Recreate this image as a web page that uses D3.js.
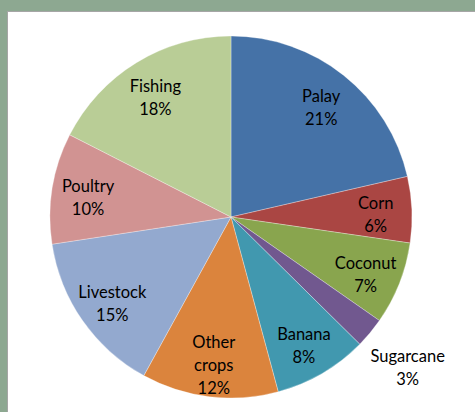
<!DOCTYPE html>
<html>
<head>
<meta charset="utf-8">
<script src="https://cdn.jsdelivr.net/npm/d3@7"></script>
<style>
  body { margin: 0; background: #8da891; }
  svg { display: block; }
  text { font-family: Lato, "Open Sans", sans-serif; font-size: 16.5px; fill: #000; }
</style>
</head>
<body>
<div id="chart"></div>
<script>
const categories = ["Palay", "Corn", "Coconut", "Sugarcane", "Banana", "Other crops", "Livestock", "Poultry", "Fishing"];
// shares in percent (labels show them rounded)
const values     = [21.4, 5.9, 7.4, 2.7, 8.4, 12.2, 14.6, 9.9, 17.5];
const colors     = ["#4572a7", "#aa4643", "#89a54e", "#71588f", "#4198af", "#db843d", "#93a9cf", "#d19392", "#b9cd96"];

const width  = 475;
const height = 412;
const cx = 231, cy = 217;
const radius = 181;

const svg = d3.select("#chart").append("svg")
  .attr("width", width)
  .attr("height", height);

// frame: gray-green band top/left, white plot area
svg.append("rect").attr("width", width).attr("height", height).attr("fill", "#8da891");
svg.append("rect").attr("x", 7).attr("y", 11).attr("width", width - 7).attr("height", height - 11).attr("fill", "#a6a6a6");
svg.append("rect").attr("x", 8).attr("y", 12).attr("width", width - 8).attr("height", height - 12).attr("fill", "#fff");

const data  = categories.map((c, i) => ({ name: c, value: values[i] }));
const total = d3.sum(values);
const pie   = d3.pie().sort(null).value(d => d.value);
const arc   = d3.arc().innerRadius(0).outerRadius(radius);
const color = d3.scaleOrdinal(categories, colors);

const g = svg.append("g").attr("transform", "translate(" + cx + "," + cy + ")");

const arcs = pie(data);

g.selectAll("path")
  .data(arcs)
  .enter().append("path")
  .attr("d", arc)
  .attr("fill", d => color(d.data.name))
  .attr("stroke", "rgba(255,255,255,0.5)")
  .attr("stroke-width", 0.6);

const format = d3.format(".0%");

// small slices get their label outside the pie
const labelArc = d => {
  const r = d.data.value / total < 0.05 ? radius * 1.27 : radius * 0.8;
  return d3.arc().innerRadius(r).outerRadius(r);
};

const wrap = name => name === "Other crops" ? ["Other", "crops"] : [name];

const labels = g.selectAll("text.label")
  .data(arcs)
  .enter().append("text")
  .attr("class", "label")
  .attr("text-anchor", "middle")
  .attr("transform", d => {
    const [x, y] = labelArc(d).centroid(d);
    return "translate(" + x + "," + (y + 4) + ")";
  });

labels.each(function(d) {
  const lines = wrap(d.data.name).concat([format(Math.round(d.data.value) / 100)]);
  const lh = 23;
  const t = d3.select(this);
  lines.forEach((l, i) => {
    t.append("tspan")
      .attr("x", 0)
      .attr("y", (i - (lines.length - 1) / 2) * lh)
      .attr("dy", "0.35em")
      .text(l);
  });
});
</script>
</body>
</html>
